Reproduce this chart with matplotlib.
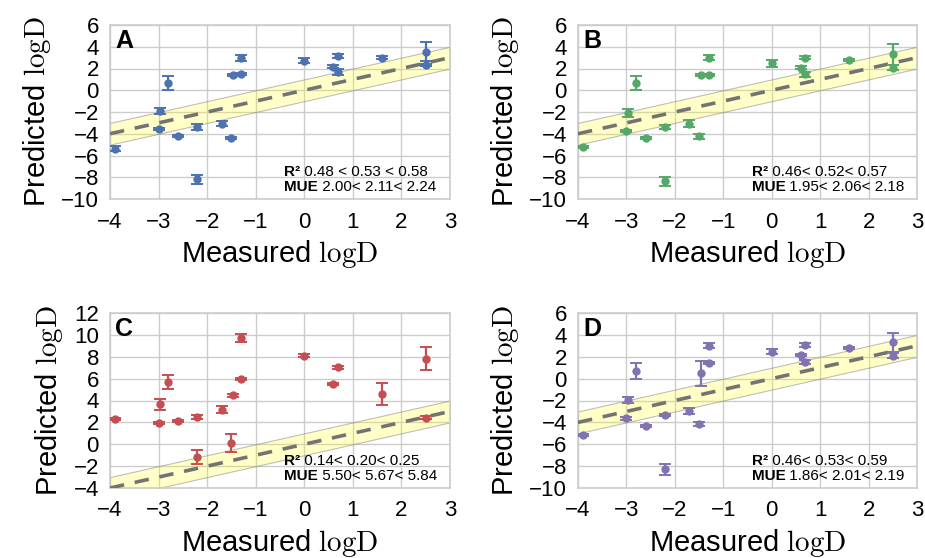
import numpy as np
import matplotlib
matplotlib.use('Agg')
import matplotlib.pyplot as plt

# Measured logD (shared by the panels)
measured = [-3.9, -2.97, -3.0, -2.8, -2.6, -2.2, -2.2, -1.7, -1.5, -1.46,
            -1.3, -1.3, 0.0, 0.6, 0.69, 0.69, 1.6, 2.5, 2.5]
measured_c = [-3.9, -2.97, -3.0, -2.8, -2.6, -2.2, -2.2, -1.7, -1.46, -1.5,
              -1.3, -1.3, 0.0, 0.6, 0.69, 1.6, 2.5, 2.5]

# Predicted logD and uncertainties per panel
pred_a = [-5.37, -1.9, -3.6, 0.68, -4.18, -3.38, -8.2, -3.07, -4.42, 1.38,
          1.47, 2.98, 2.73, 2.18, 3.16, 1.66, 2.98, 3.56, 2.3]
err_a = [0.2, 0.3, 0.1, 0.65, 0.1, 0.25, 0.45, 0.2, 0.1, 0.1,
         0.1, 0.3, 0.25, 0.1, 0.2, 0.25, 0.15, 0.9, 0.1]

pred_b = [-5.22, -2.09, -3.72, 0.64, -4.39, -3.38, -8.39, -3.07, -4.24, 1.38,
          1.38, 3.01, 2.46, 2.09, 3.01, 1.47, 2.76, 3.29, 2.09]
err_b = [0.1, 0.4, 0.1, 0.65, 0.1, 0.15, 0.45, 0.3, 0.2, 0.1,
         0.1, 0.25, 0.3, 0.15, 0.15, 0.25, 0.1, 0.95, 0.25]

pred_c = [2.31, 3.66, 1.95, 5.7, 2.16, 2.5, -1.19, 3.17, 4.48, 0.09,
          6.0, 9.7, 8.1, 5.52, 7.04, 4.57, 7.83, 2.44]
err_c = [0.1, 0.5, 0.1, 0.63, 0.1, 0.2, 0.63, 0.3, 0.15, 0.82,
         0.1, 0.35, 0.15, 0.1, 0.15, 1.0, 1.07, 0.1]

pred_d = [-5.16, -1.96, -3.64, 0.70, -4.3, -3.33, -8.3, -2.96, -4.15, 0.48,
          1.46, 3.02, 2.47, 2.16, 3.08, 1.52, 2.77, 3.32, 2.1]
err_d = [0.1, 0.3, 0.1, 0.7, 0.1, 0.1, 0.5, 0.3, 0.15, 1.17,
         0.1, 0.25, 0.25, 0.1, 0.15, 0.2, 0.1, 0.85, 0.2]

panel_labels = ['A', 'B', 'C', 'D']
r2_texts = ['0.48 < 0.53 < 0.58', '0.46< 0.52< 0.57', '0.14< 0.20< 0.25', '0.46< 0.53< 0.59']
mue_texts = ['2.00< 2.11< 2.24', '1.95< 2.06< 2.18', '5.50< 5.67< 5.84', '1.86< 2.01< 2.19']
colors = ['#4C72B0', '#55A868', '#C44E52', '#8172B2']
ylims = [(-10, 6), (-10, 6), (-4, 12), (-10, 6)]

plt.rcParams['font.family'] = ['Liberation Sans', 'DejaVu Sans']
plt.rcParams['mathtext.fontset'] = 'cm'

fig = plt.figure(figsize=(9.25, 5.58), dpi=100)

positions = [
    [110 / 925, 1 - 199 / 558, 340 / 925, 174 / 558],
    [578 / 925, 1 - 199 / 558, 339 / 925, 174 / 558],
    [110 / 925, 1 - 488 / 558, 340 / 925, 175 / 558],
    [578 / 925, 1 - 488 / 558, 339 / 925, 175 / 558],
]
xs = [measured, measured, measured_c, measured]
ys = [pred_a, pred_b, pred_c, pred_d]
errs = [err_a, err_b, err_c, err_d]

line_x = np.array([-4, 3])

for i in range(4):
    ax = fig.add_axes(positions[i])
    ax.set_facecolor('white')
    ax.grid(True, color='0.8', linewidth=1)
    ax.set_axisbelow(True)
    for sp in ax.spines.values():
        sp.set_color('0.8')
        sp.set_linewidth(1.2)

    # +/- 1 log unit band and identity line
    ax.fill_between(line_x, line_x - 1, line_x + 1, facecolor=(1, 1, 0, 0.22),
                    edgecolor=(0.5, 0.5, 0.5, 0.5), linewidth=0.8, zorder=2)
    ax.plot(line_x, line_x, '--', color='0.45', linewidth=2.6, dashes=(4, 3), zorder=3)

    ax.errorbar(xs[i], ys[i], yerr=errs[i], fmt='o', color=colors[i], markersize=5,
                elinewidth=1.6, capsize=4, capthick=1.4, zorder=4)

    ax.set_xlim(-4, 3)
    ax.set_ylim(*ylims[i])
    ax.set_xticks(range(-4, 4))
    ax.set_yticks(range(ylims[i][0], ylims[i][1] + 1, 2))
    ax.tick_params(length=0, labelsize=16)
    ax.tick_params(axis='x', pad=9)
    ax.tick_params(axis='y', pad=8)
    ax.set_xlabel(r'Measured $\mathrm{logD}$', fontsize=21, labelpad=4)
    ax.set_ylabel(r'Predicted $\mathrm{logD}$', fontsize=21, labelpad=6)

    ax.text(0.015, 0.975, panel_labels[i], transform=ax.transAxes, fontsize=18,
            fontweight='bold', ha='left', va='top')

    t1 = ax.text(0.512, 0.155, 'R²', transform=ax.transAxes, fontsize=11,
                 fontweight='bold', ha='left', va='center')
    ax.annotate(' ' + r2_texts[i], xy=(1, 0.5), xycoords=t1, fontsize=11,
                ha='left', va='center')
    t2 = ax.text(0.512, 0.068, 'MUE', transform=ax.transAxes, fontsize=11,
                 fontweight='bold', ha='left', va='center')
    ax.annotate(' ' + mue_texts[i], xy=(1, 0.5), xycoords=t2, fontsize=11,
                ha='left', va='center')

fig.savefig('out.png', dpi=100)
